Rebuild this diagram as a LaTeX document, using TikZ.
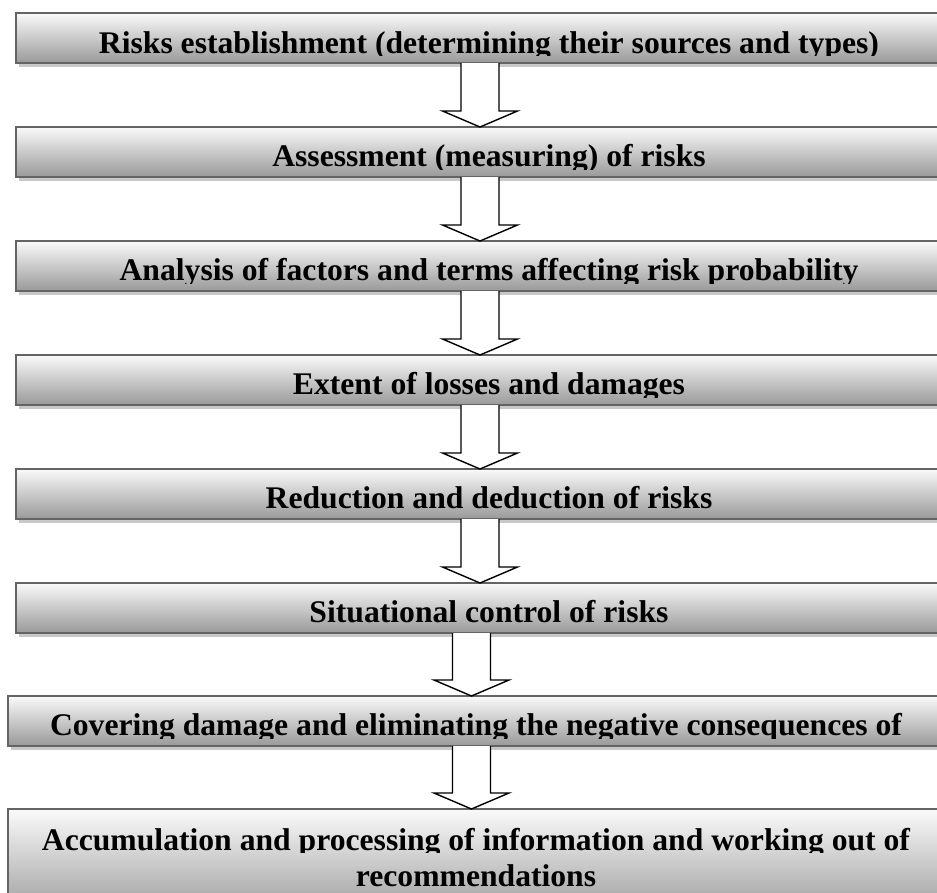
\documentclass[tikz,border=0pt]{standalone}
\usepackage{fontspec}
\setmainfont{Liberation Serif}
\usetikzlibrary{calc,shadows}
\definecolor{boxline}{HTML}{646464}
\definecolor{boxtop}{HTML}{FAFAFA}
\definecolor{boxmid}{HTML}{D2D2D2}
\definecolor{boxbot}{HTML}{999999}
\definecolor{shade}{HTML}{C8C8C8}
\tikzset{
  stagebox/.style={rectangle, inner sep=0pt, outer sep=0pt, anchor=north west,
    minimum height=50pt, top color=boxtop, middle color=boxmid, bottom color=boxbot,
    drop shadow={shadow xshift=3pt, shadow yshift=-4pt, fill=shade, opacity=1}},
  wide/.style={minimum width=946pt},
  narrow/.style={minimum width=936pt},
  border/.style={draw=boxline, line width=2pt},
  stagetext/.style={inner sep=0pt, outer sep=0pt, anchor=base,
    font=\bfseries\fontsize{30}{36}\selectfont, text=black},
  arr/.style={draw=black, fill=white, line width=1.4pt, line join=miter}
}
% #1 box, #2 node name, #3 baseline offset below box top, #4 text
\newcommand\stagelabel[4]{%
  \begin{scope}
    \clip ($(#1.north west)+(1,#3-36)$) rectangle ($(#1.north east)+(-1,#3+2.5)$);
    \node[stagetext] (#2) at ($(#1.north)+(0,#3)$) {\scalebox{1.055}[1.05]{#4}};
  \end{scope}
}
% #1 upper box, #2 lower box, #3 arrow axis x
\newcommand\flowarr[3]{%
  \draw[arr] let \p1=(#1.south), \p2=(#2.north), \p3=(#3,0) in
    (\x3-19pt,\y1) -- (\x3-19pt,\y2+16pt) -- (\x3-37.5pt,\y2+16pt) -- (\x3,\y2)
    -- (\x3+37.5pt,\y2+16pt) -- (\x3+19pt,\y2+16pt) -- (\x3+19pt,\y1);
}
\begin{document}
\begin{tikzpicture}[x=1pt, y=-1pt]
\clip (0,0) rectangle (937,892);
\fill[white] (0,0) rectangle (937,892);

\node[stagebox, wide] (b1) at (16,13) {};
\node[stagebox, wide] (b2) at (16,127) {};
\node[stagebox, wide] (b3) at (16,241) {};
\node[stagebox, wide] (b4) at (16,355) {};
\node[stagebox, wide] (b5) at (16,469) {};
\node[stagebox, wide] (b6) at (16,583) {};
\node[stagebox, narrow] (b7) at (8,696) {};
\node[stagebox, narrow, minimum height=110pt] (b8) at (8,809) {};

\stagelabel{b1}{t1}{40}{Risks establishment (determining their sources and types)}
\stagelabel{b2}{t2}{39.5}{Assessment (measuring) of risks}
\stagelabel{b3}{t3}{39.5}{Analysis of factors and terms affecting risk probability}
\stagelabel{b4}{t4}{39.5}{Extent of losses and damages}
\stagelabel{b5}{t5}{39.5}{Reduction and deduction of risks}
\stagelabel{b6}{t6}{39}{Situational control of risks}
\stagelabel{b7}{t7}{39.5}{Covering damage and eliminating the negative consequences of}
\stagelabel{b8}{t8a}{41}{Accumulation and processing of information and working out of}
\stagelabel{b8}{t8b}{77}{recommendations}

\foreach \b in {b1,b2,b3,b4,b5,b6,b7,b8}
  \draw[border] (\b.north west) rectangle (\b.south east);

\flowarr{b1}{b2}{480}
\flowarr{b2}{b3}{480}
\flowarr{b3}{b4}{480}
\flowarr{b4}{b5}{480}
\flowarr{b5}{b6}{480}
\flowarr{b6}{b7}{471.5}
\flowarr{b7}{b8}{471.5}
\end{tikzpicture}
\end{document}
